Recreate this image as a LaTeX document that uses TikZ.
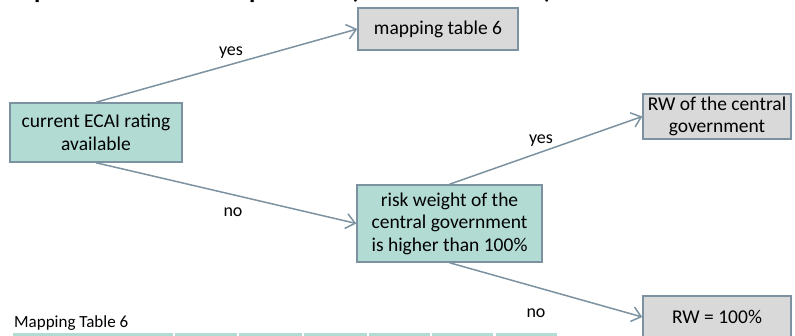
\documentclass[tikz,border=0pt]{standalone}
\usepackage{fontspec}
\setmainfont{Carlito}
\usetikzlibrary{arrows.meta}
\definecolor{boxteal}{RGB}{178,219,212}
\definecolor{boxgray}{RGB}{217,217,217}
\definecolor{edgeblue}{RGB}{124,146,160}
\tikzset{
  flowbox/.style={draw=edgeblue, line width=1.5pt, align=center, inner sep=2pt},
  tealbox/.style={flowbox, fill=boxteal},
  graybox/.style={flowbox, fill=boxgray},
  conn/.style={draw=edgeblue, line width=1.5pt, -{Straight Barb[length=9pt,width=15pt,line width=1.5pt]}},
  branch/.style={font=\fontsize{18}{21}\selectfont, inner sep=0pt},
  headglyph/.style={anchor=base west, inner sep=0pt, font=\fontsize{26}{30}\selectfont\bfseries},
  tablecell/.style={fill=boxteal, draw=white, line width=1pt}
}
\begin{document}
\begin{tikzpicture}[x=1pt, y=-1pt, font=\fontsize{19.5}{22.5}\selectfont]
\useasboundingbox (0,0) rectangle (795,336);

% heading, only its lowest strokes fall inside the page
\begin{scope}
  \clip (0,0) rectangle (795,20);
  \node[headglyph] (hp1) at (34,-1.4) {p};
  \node[headglyph] (hp2) at (249,-1.4) {p};
  \node[headglyph] (hpl) at (350,-1.4) {(};
  \node[headglyph] (hpr) at (544,-1.4) {)};
\end{scope}

% decision tree
\node[tealbox, minimum width=172pt, minimum height=59pt] (ecai) at (96,132.5) {current ECAI rating\\available};
\node[graybox, minimum width=160pt, minimum height=42pt] (map) at (438,29) {mapping table 6};
\node[tealbox, minimum width=185pt, minimum height=77pt] (risk) at (449.5,223.5) {risk weight of the\\central government\\is higher than 100\%};
\node[graybox, minimum width=148pt, minimum height=45pt] (rwcg) at (717,116.5) {RW of the central\\government};
\node[graybox, minimum width=148pt, minimum height=42pt] (rw100) at (717,317) {RW = 100\%};

\draw[conn] (ecai.north) -- (map.west);
\draw[conn] (ecai.south) -- (risk.west);
\draw[conn] (risk.north) -- (rwcg.west);
\draw[conn] (risk.south) -- (rw100.west);

\node[branch] (y1) at (231,53) {yes};
\node[branch] (n1) at (233,212) {no};
\node[branch] (y2) at (541,141) {yes};
\node[branch] (n2) at (536,313) {no};

% start of the mapping table
\node[anchor=west, inner sep=0pt, font=\fontsize{17}{20}\selectfont] (mtitle) at (14,323) {Mapping Table 6};
\foreach \xa/\xb [count=\i] in {12/173,174/237,238/302,303/367,368/430,431/493,495/557}
  \path[tablecell] (\xa,333) rectangle (\xb,345);
\end{tikzpicture}
\end{document}
